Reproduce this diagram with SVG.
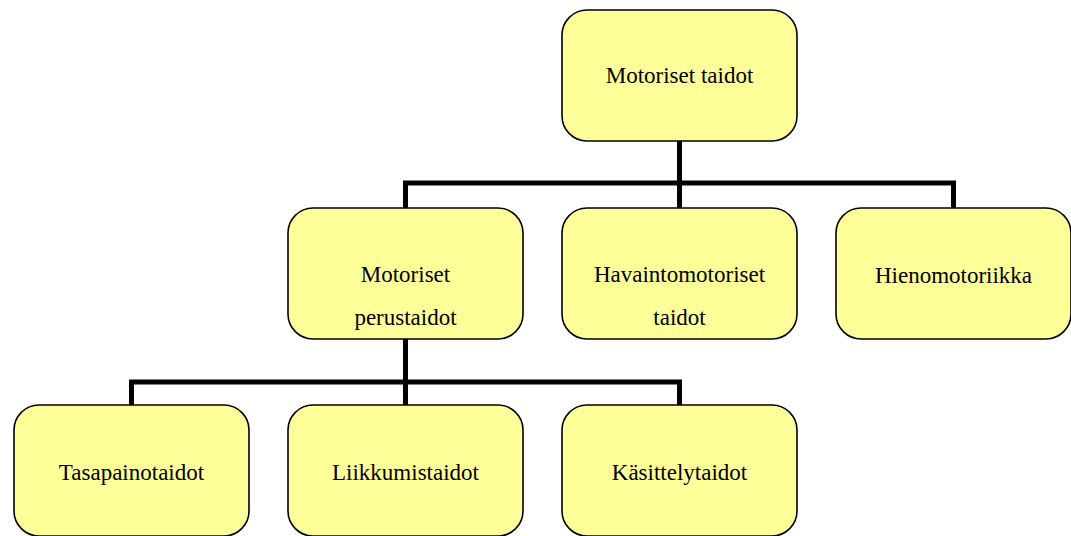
<svg xmlns="http://www.w3.org/2000/svg" width="1071" height="536" viewBox="0 0 1071 536">
<style>
.box{fill:#FFFF99;stroke:#000;stroke-width:1.6}
.lbl{font-family:"Liberation Serif","Times New Roman",serif;font-size:23px;fill:#000;text-anchor:middle}
.conn{fill:none;stroke:#000;stroke-width:5;stroke-linecap:square}
</style>
<rect width="1071" height="536" fill="#fff"/>
<g id="connectors">
<path class="conn" d="M679.5 141V183M405.5 208V183H953.5V208M679.5 183V208"/>
<path class="conn" d="M405.5 339V382M131.5 405V382H679.5V405M405.5 382V405"/>
</g>
<g id="n-root"><rect class="box" x="562" y="10" width="235" height="131" rx="25"/><text class="lbl" x="679.5" y="83">Motoriset taidot</text></g>
<g id="n-perus"><rect class="box" x="288" y="208" width="235" height="131" rx="25"/><text class="lbl" x="405.5" y="282">Motoriset</text><text class="lbl" x="405.5" y="325">perustaidot</text></g>
<g id="n-havainto"><rect class="box" x="562" y="208" width="235" height="131" rx="25"/><text class="lbl" x="679.5" y="282">Havaintomotoriset</text><text class="lbl" x="679.5" y="325">taidot</text></g>
<g id="n-hieno"><rect class="box" x="836" y="208" width="235" height="131" rx="25"/><text class="lbl" x="953.5" y="283">Hienomotoriikka</text></g>
<g id="n-tasapaino"><rect class="box" x="14" y="405" width="235" height="131" rx="25"/><text class="lbl" x="131.5" y="480">Tasapainotaidot</text></g>
<g id="n-liikkumis"><rect class="box" x="288" y="405" width="235" height="131" rx="25"/><text class="lbl" x="405.5" y="480">Liikkumistaidot</text></g>
<g id="n-kasittely"><rect class="box" x="562" y="405" width="235" height="131" rx="25"/><text class="lbl" x="679.5" y="480">Käsittelytaidot</text></g>
</svg>
